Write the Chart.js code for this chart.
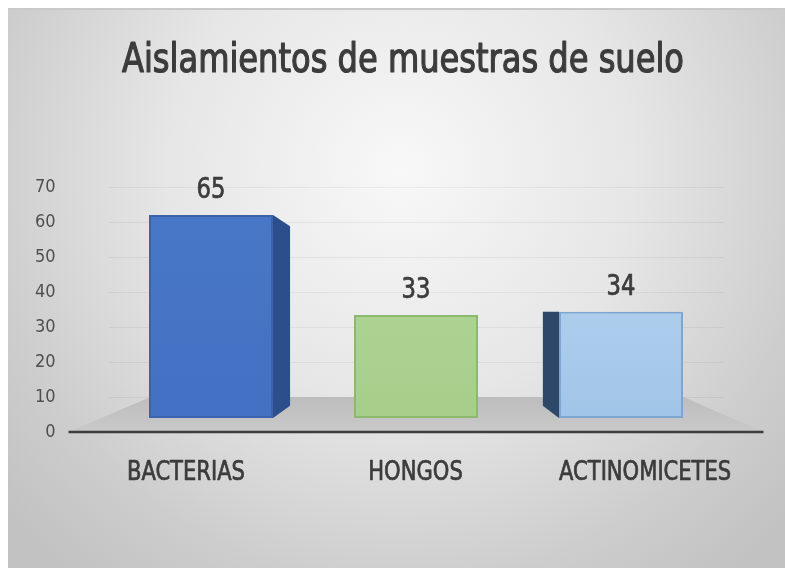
<!DOCTYPE html>
<html lang="es">
<head>
<meta charset="UTF-8">
<title>Aislamientos de muestras de suelo</title>
<style>
  html, body { margin: 0; padding: 0; background: #fff; }
  #wrap { width: 785px; height: 568px; position: relative; }
</style>
<script src="https://cdn.jsdelivr.net/npm/chart.js"></script>
</head>
<body>
<div id="wrap"><canvas id="chart"></canvas></div>
<script>
// datos
const chartTitle = 'Aislamientos de muestras de suelo';
const categories = ['BACTERIAS', 'HONGOS', 'ACTINOMICETES'];
const counts = [65, 33, 34];
const yTicks = [0, 10, 20, 30, 40, 50, 60, 70];

// colores de las barras (frente, borde, cara lateral)
const frontTop = ['#4a78c8', '#b5d99c', '#bcd6f0'];
const frontBottom = ['#4370c2', '#a5cd89', '#9fc4e8'];
const borderColors = ['#3a62ad', '#8cb96d', '#7ea6d3'];
const sideColors = ['#2c4f8c', '#6f9a52', '#2d4868'];

const FONT = '"Liberation Sans Narrow", "DejaVu Sans Condensed", "Arial Narrow", sans-serif';
const TEXT = '#3c3c3c';

// perspectiva 3D aproximada
const DEPTH = 0.884;
function vanish(chart) {
    const a = chart.chartArea;
    return { x: (a.left + a.right) / 2 + 4, y: a.top + 125 };
}

// texto estrechado horizontalmente (la fuente original es mas condensada)
function narrowText(ctx, text, x, y, sx, stroke) {
    ctx.save();
    ctx.translate(x, y);
    ctx.scale(sx, 1);
    ctx.fillText(text, 0, 0);
    if (stroke) {
        ctx.strokeStyle = ctx.fillStyle;
        ctx.lineWidth = stroke;
        ctx.lineJoin = 'round';
        ctx.strokeText(text, 0, 0);
    }
    ctx.restore();
}

const backgroundPlugin = {
    id: 'fondo',
    beforeDraw(chart) {
        const ctx = chart.ctx;
        const w = chart.width, h = chart.height;
        ctx.save();
        ctx.fillStyle = '#ffffff';
        ctx.fillRect(0, 0, w, h);
        const g = ctx.createRadialGradient(400, 170, 0, 400, 170, 520);
        g.addColorStop(0, '#f8f8f8');
        g.addColorStop(0.45, '#e6e6e6');
        g.addColorStop(0.8, '#cdcdcd');
        g.addColorStop(1, '#c2c2c2');
        ctx.fillStyle = g;
        ctx.fillRect(8, 8, w - 8, h - 8);
        ctx.fillStyle = '#c9c9c9';
        ctx.fillRect(8, 8, w - 8, 2);

        // titulo
        ctx.fillStyle = TEXT;
        ctx.font = '40px ' + FONT;
        ctx.textAlign = 'center';
        ctx.textBaseline = 'alphabetic';
        const sx = 562 / ctx.measureText(chartTitle).width;
        narrowText(ctx, chartTitle, 403, 72, sx, 1.2);
        ctx.restore();
    }
};

const floorPlugin = {
    id: 'piso',
    beforeDatasetsDraw(chart) {
        const ctx = chart.ctx;
        const a = chart.chartArea;
        const y0 = chart.scales.y.getPixelForValue(0);
        const yBack = chart.scales.y.getPixelForValue(10);
        ctx.save();
        const g = ctx.createLinearGradient(0, yBack, 0, y0);
        g.addColorStop(0, '#bdbdbd');
        g.addColorStop(1, '#c9c9c9');
        ctx.fillStyle = g;
        ctx.beginPath();
        ctx.moveTo(a.left - 40, y0);
        ctx.lineTo(a.left + 42, yBack);
        ctx.lineTo(a.right - 40, yBack);
        ctx.lineTo(a.right + 40, y0);
        ctx.closePath();
        ctx.fill();
        ctx.strokeStyle = '#3d3d3d';
        ctx.lineWidth = 2.5;
        ctx.beginPath();
        ctx.moveTo(a.left - 40, y0);
        ctx.lineTo(a.right + 40, y0);
        ctx.stroke();
        ctx.restore();
    }
};

const facesPlugin = {
    id: 'caras',
    afterDatasetsDraw(chart) {
        const ctx = chart.ctx;
        const vp = vanish(chart);
        const bars = chart.getDatasetMeta(0).data;
        ctx.save();
        ctx.font = '26px ' + FONT;
        const labelSx = 118 / ctx.measureText(categories[0]).width;
        bars.forEach((bar, i) => {
            const left = bar.x - bar.width / 2;
            const right = bar.x + bar.width / 2;
            let fx = null;
            if (right < vp.x) fx = right;
            else if (left > vp.x) fx = left;
            if (fx !== null) {
                const bx = vp.x + (fx - vp.x) * DEPTH;
                const byTop = vp.y + (bar.y - vp.y) * DEPTH;
                const byBot = vp.y + (bar.base - vp.y) * DEPTH;
                ctx.fillStyle = sideColors[i];
                ctx.beginPath();
                ctx.moveTo(fx, bar.y);
                ctx.lineTo(bx, byTop);
                ctx.lineTo(bx, byBot);
                ctx.lineTo(fx, bar.base);
                ctx.closePath();
                ctx.fill();
            }
            ctx.fillStyle = TEXT;
            ctx.textAlign = 'center';
            ctx.textBaseline = 'alphabetic';
            // etiqueta de valor
            ctx.font = '28px ' + FONT;
            narrowText(ctx, String(counts[i]), bar.x, bar.y - 17, labelSx, 0.7);
            // etiqueta de categoria
            ctx.font = '26px ' + FONT;
            narrowText(ctx, categories[i], vp.x + (bar.x - vp.x) * 1.12, 480, labelSx, 0.7);
        });
        ctx.restore();
    }
};

function barFill(context) {
    const chart = context.chart;
    const a = chart.chartArea;
    if (!a) return frontBottom[context.dataIndex];
    const g = chart.ctx.createLinearGradient(0, a.top, 0, a.bottom);
    g.addColorStop(0, frontTop[context.dataIndex]);
    g.addColorStop(1, frontBottom[context.dataIndex]);
    return g;
}

new Chart(document.getElementById('chart'), {
    type: 'bar',
    data: {
        labels: categories,
        datasets: [{
            label: 'Aislamientos',
            data: counts,
            yAxisID: 'yb',
            backgroundColor: barFill,
            borderColor: borderColors,
            borderWidth: 2,
            borderSkipped: false,
            categoryPercentage: 1,
            barPercentage: 0.605
        }]
    },
    options: {
        responsive: true,
        maintainAspectRatio: false,
        animation: false,
        layout: { padding: { left: 33.5, right: 61.5, top: 187, bottom: 136 } },
        plugins: {
            legend: { display: false },
            tooltip: { enabled: false },
            title: { display: false }
        },
        scales: {
            x: { display: false },
            y: {
                position: 'left',
                min: 0,
                max: 70,
                afterFit(scale) { scale.width = 75; },
                afterBuildTicks(scale) { scale.ticks = yTicks.map(v => ({ value: v })); },
                ticks: { color: '#4f4f4f', padding: 53, font: { family: FONT, size: 18 } },
                grid: { color: 'rgba(0,0,0,0.05)', drawTicks: false },
                border: { display: false }
            },
            yb: {
                display: false,
                min: -4.48,
                max: 73.96
            }
        }
    },
    plugins: [backgroundPlugin, floorPlugin, facesPlugin]
});
</script>
</body>
</html>
